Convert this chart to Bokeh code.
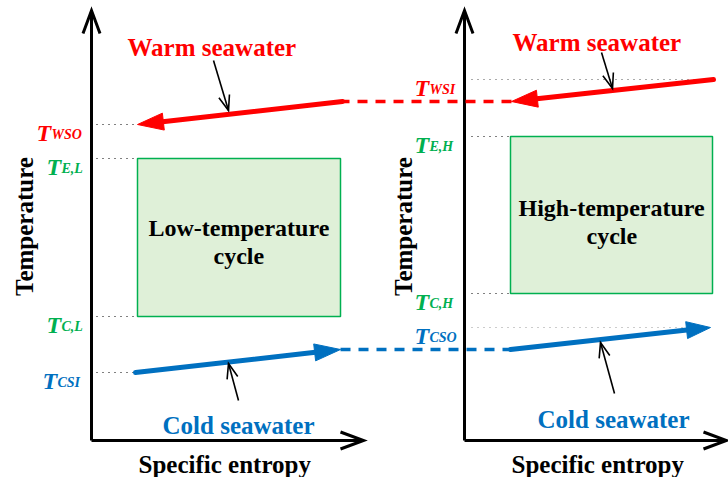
import numpy as np
from bokeh.plotting import figure
from bokeh.models import Range1d
from bokeh.embed import file_html
from bokeh.resources import INLINE
from bokeh.core.properties import value

# ---- schematic data (entropy on x, temperature on y, arbitrary units) ----
# left panel: low-temperature cycle
low_level_names = ["WSO", "E,L", "C,L", "CSI"]
low_level_T = [353, 319, 161, 105]
low_cycle_s = [137, 340]
low_cycle_T = [161, 319]

# right panel: high-temperature cycle
high_level_names = ["WSI", "E,H", "C,H", "CSO"]
high_level_T = [398, 341, 184, 150]
high_cycle_s = [510, 712]
high_cycle_T = [184, 341]

# warm seawater path (enters right, leaves left)
warm_s = [713, 511, 342, 137]
warm_T = [398, 376, 376, 353]

# cold seawater path (enters left, leaves right)
cold_s = [135, 340, 510, 710]
cold_T = [105, 128, 128, 150]

W, H = 728, 477
RED = "#ff0000"
BLUE = "#0070c0"
GREEN = "#00b050"


def serif():
    return value("Liberation Serif")


p = figure(width=W, height=H, x_range=Range1d(0, W), y_range=Range1d(0, H),
           output_backend="svg", toolbar_location=None, min_border=0,
           x_axis_location=None, y_axis_location=None)
p.grid.visible = False
p.outline_line_color = None
p.background_fill_color = "white"
p.border_fill_color = "white"


def head_pts(x0, y0, x1, y1, length, half):
    """Tip at (x1, y1), pointing from (x0, y0); returns wing/base points."""
    d = np.array([x1 - x0, y1 - y0], dtype=float)
    u = d / np.hypot(*d)
    n = np.array([-u[1], u[0]])
    tip = np.array([x1, y1], dtype=float)
    base = tip - u * length
    w1 = base + n * half
    w2 = base - n * half
    return tip, base, w1, w2


def solid_arrow(x0, y0, x1, y1, color, lw=5, length=26, half=8.5):
    tip, base, w1, w2 = head_pts(x0, y0, x1, y1, length, half)
    p.line([x0, base[0] + (tip - base)[0] * 0.2], [y0, base[1] + (tip - base)[1] * 0.2],
           line_color=color, line_width=lw, line_cap="round")
    p.patch([tip[0], w1[0], w2[0]], [tip[1], w1[1], w2[1]],
            fill_color=color, line_color=color, line_width=1)


def open_arrow(x0, y0, x1, y1, lw, length, half, color="black"):
    tip, base, w1, w2 = head_pts(x0, y0, x1, y1, length, half)
    p.line([x0, x1], [y0, y1], line_color=color, line_width=lw)
    p.line([w1[0], tip[0], w2[0]], [w1[1], tip[1], w2[1]],
           line_color=color, line_width=lw, line_join="miter")


def label(xs, ys, texts, color, size="25px", style="bold"):
    p.text(x=xs, y=ys, text=texts, text_font=serif(), text_font_style=style,
           text_font_size=size, text_color=color, text_align="left",
           text_baseline="alphabetic")


# ---- axes (drawn as arrows) ----
axis_y0 = 37
axis_top = 467
for ax_x, ax_right in [(91, 363), (464, 726)]:
    open_arrow(ax_x, axis_y0, ax_x, axis_top, 3, 23, 8.5)
    open_arrow(ax_x, axis_y0, ax_right, axis_y0, 3, 23, 8.5)

# ---- cycle boxes ----
for cs, ct in [(low_cycle_s, low_cycle_T), (high_cycle_s, high_cycle_T)]:
    p.quad(left=cs[0], right=cs[1], bottom=ct[0], top=ct[1],
           fill_color="#dff0d8", line_color=GREEN, line_width=1.5)

# ---- dotted guide lines to the temperature labels ----
low_guide_end = [137, 137, 137, 135]
for t, xe in zip(low_level_T, low_guide_end):
    p.line([96, xe], [t, t], line_color="black", line_width=1, line_dash="1 5")
high_guide_end = [713, 510, 510, 710]
high_guide_col = ["#555555", "black", "black", "#999999"]
for t, xe, c in zip(high_level_T, high_guide_end, high_guide_col):
    p.line([471, xe], [t, t], line_color=c, line_width=1, line_dash="1 5")

# ---- warm seawater path ----
p.line([warm_s[1], warm_s[2]], [warm_T[1], warm_T[2]], line_color=RED,
       line_width=3.5, line_dash="10 8")
solid_arrow(warm_s[0], warm_T[0], warm_s[1], warm_T[1], RED)
solid_arrow(warm_s[2], warm_T[2], warm_s[3], warm_T[3], RED)

# ---- cold seawater path ----
p.line([cold_s[1], cold_s[2]], [cold_T[1], cold_T[2]], line_color=BLUE,
       line_width=3.5, line_dash="10 8")
solid_arrow(cold_s[0], cold_T[0], cold_s[1], cold_T[1], BLUE)
solid_arrow(cold_s[2], cold_T[2], cold_s[3], cold_T[3], BLUE, length=24)

# ---- pointer arrows from stream names ----
open_arrow(213, 417, 228, 367, 1.6, 15, 5.5)
open_arrow(601, 425, 612, 389, 1.6, 15, 5.5)
open_arrow(238, 77, 228, 114, 1.6, 15, 5.5)
open_arrow(614, 84, 600, 135, 1.6, 15, 5.5)

# ---- texts ----
label([127, 512], [430, 435], ["Warm seawater", "Warm seawater"], RED)
label([162, 537], [52, 58], ["Cold seawater", "Cold seawater"], BLUE)
label([138, 511], [13, 13], ["Specific entropy", "Specific entropy"], "black")
label([148, 213, 518, 586], [250, 222, 270, 242],
      ["Low-temperature", "cycle", "High-temperature", "cycle"], "black", size="24px")
p.text(x=[24, 403], y=[251, 251], text=["Temperature", "Temperature"],
       text_font=serif(), text_font_style="bold", text_font_size="25px",
       text_color="black", text_align="center", text_baseline="middle",
       angle=np.pi / 2)

# temperature labels: italic T with subscript
low_label_x = [36, 46, 46, 42]
high_label_x = [414, 414, 414, 414]
label_cols = [RED, GREEN, GREEN, BLUE]
for xs, names, levels in [(low_label_x, low_level_names, low_level_T),
                          (high_label_x, high_level_names, high_level_T)]:
    ys = [t - 8 for t in levels]
    label(xs, ys, ["T"] * 4, label_cols, size="24px", style="bold italic")
    label([x + 15 for x in xs], [y - 2 for y in ys], names, label_cols,
          size="14px", style="bold italic")

open("out.html", "w").write(file_html(p, INLINE))
